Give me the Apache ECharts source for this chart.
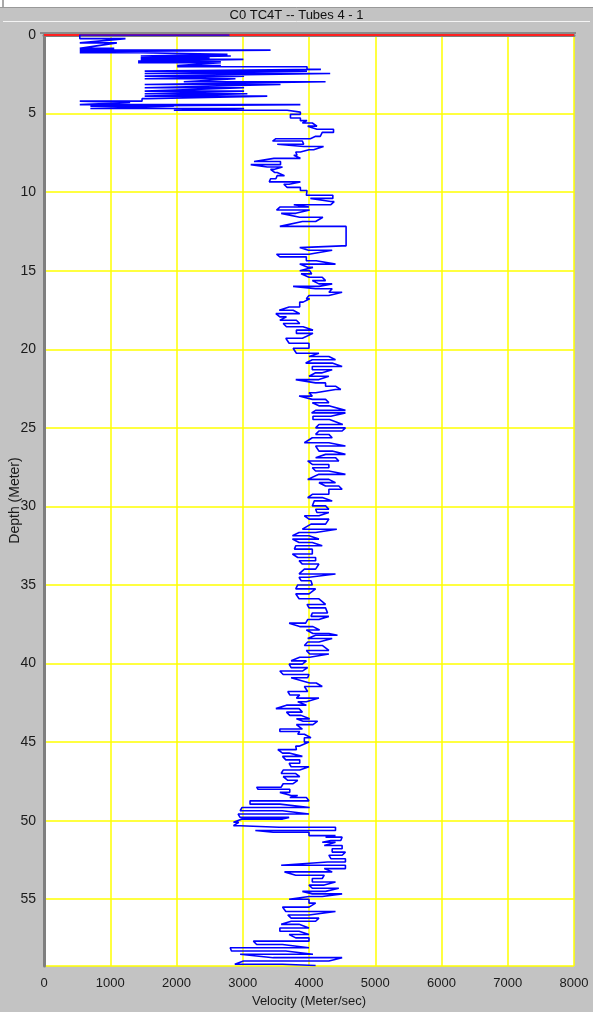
<!DOCTYPE html>
<html>
<head>
<meta charset="utf-8">
<script src="https://cdn.jsdelivr.net/npm/echarts@6/dist/echarts.min.js"></script>
<style>
html,body{margin:0;padding:0;background:#c3c3c3;}
#chart{width:593px;height:1012px;}
</style>
</head>
<body>
<div id="chart"></div>
<script>
// Depth rows (m); each row is drawn from velIn to velOut (m/s)
const depths = [
0.00,0.23,0.50,0.85,0.96,1.06,1.13,1.23,1.34,1.45,1.55,1.66,1.77,1.94,2.02,2.19,2.30,2.45,2.62,2.78,2.98,3.15,3.36,3.57,3.74,3.89,4.05,4.21,4.30,4.43,4.53,4.68,4.79,4.91,
5.05,5.28,5.45,5.60,5.80,6.00,6.20,6.45,6.60,6.75,6.95,7.10,7.30,7.45,7.65,7.85,8.05,8.25,8.40,8.55,8.75,8.95,9.15,9.35,9.50,9.70,9.90,
10.20,10.40,10.60,10.80,10.95,11.14,11.35,11.60,11.87,12.18,13.42,13.53,13.70,13.95,14.12,14.37,14.58,14.79,
15.00,15.20,15.42,15.63,15.84,16.00,16.15,16.37,16.58,16.79,17.00,17.31,17.52,17.73,17.94,18.15,18.36,18.57,18.78,18.99,19.30,19.62,19.94,
20.25,20.46,20.67,20.88,21.10,21.30,21.50,21.72,21.93,22.14,22.35,22.56,22.77,22.98,23.19,23.40,23.60,23.89,24.05,24.26,24.47,24.79,
25.00,25.20,25.42,25.63,25.95,26.16,26.48,26.69,26.90,27.11,27.33,27.54,27.75,27.96,28.28,28.49,28.70,28.91,29.23,29.44,29.65,29.97,
30.18,30.39,30.60,30.81,31.13,31.45,31.66,31.87,32.08,32.30,32.50,32.72,33.03,33.25,33.46,33.67,33.99,34.30,34.51,34.73,
35.00,35.25,35.57,35.88,36.24,36.46,36.78,37.00,37.20,37.43,37.65,37.87,38.09,38.20,38.41,38.63,38.85,39.17,39.39,39.60,39.83,
40.04,40.26,40.48,40.70,40.91,41.24,41.46,41.78,42.00,42.20,42.43,42.65,42.87,43.09,43.30,43.52,43.67,43.89,44.17,44.33,44.50,44.72,
45.00,45.26,45.48,45.70,45.91,46.13,46.35,46.57,46.78,47.00,47.20,47.43,47.65,47.87,48.00,48.20,48.40,48.53,48.74,48.95,49.16,49.37,49.58,49.79,49.90,
50.10,50.32,50.42,50.63,50.74,50.95,51.05,51.26,51.37,51.58,51.79,52.00,52.20,52.42,52.63,52.84,53.05,53.26,53.47,53.68,53.90,54.10,54.30,54.50,54.66,54.83,
55.00,55.25,55.50,55.78,56.00,56.20,56.40,56.60,56.83,57.04,57.25,57.46,57.67,57.88,58.09,58.30,58.50,58.72,58.93,59.14,59.22
];
const velIn = [
2800,540,540,540,540,540,540,1460,1460,1460,1460,1420,1420,2010,2010,3970,1520,1520,1520,1520,2110,1520,1520,1520,1520,1520,1560,1480,540,540,700,700,1960,3670,
3870,3720,3870,3900,4120,4120,4370,4170,4020,3450,3920,3920,4070,3870,3820,3870,3170,3570,3370,3480,3480,3630,3500,3400,3700,3670,3870,
3960,4360,4330,4330,4000,3510,3800,3860,4100,3560,4560,4500,3990,4000,3560,3960,4400,3990,
3860,4040,4000,4250,4150,4150,4100,4300,4300,3960,3910,3860,3550,3860,3560,3560,3860,3660,4060,3810,3900,3700,4000,
3810,4000,4400,3950,4500,4050,4200,4000,4150,4100,4250,4480,4100,4050,4050,4300,4150,4550,4040,4330,4060,4510,
4100,4500,4100,4350,3930,4550,4150,4550,4100,4450,4050,4300,4100,4550,3980,4400,4250,4500,4300,3980,4350,4050,
4300,4120,4150,4000,4250,3900,4100,3750,4150,3850,4200,3780,4050,3830,4100,3900,4100,3850,4000,3880,
4050,3800,4000,3850,4250,4000,4280,4030,4150,3950,3860,4160,4060,4430,3980,4150,3930,4300,4010,4010,3730,
3900,3730,3900,3610,3980,4010,4200,3980,3710,3810,3960,3960,3500,3900,3710,4010,3910,4060,3900,3560,3830,4030,
3930,3850,3810,3600,3900,3650,3860,3730,3860,3580,3860,3680,3760,3580,3230,3710,3730,3710,4000,3110,4010,2960,4000,2960,3600,
2860,2860,3550,4400,3460,4000,4250,4480,4200,4230,4500,4350,4500,4330,4550,3580,4550,4350,3800,4200,4050,4230,4050,4250,4050,4200,
3700,4000,4000,3650,4000,3730,4100,3580,4000,3560,4000,3800,4000,3210,4000,2830,4060,3460,4300,2880,3600
];
const velOut = [
540,1230,1100,1060,3420,1060,1460,2770,2820,2500,3010,2670,2670,2670,3970,4180,3970,4320,3020,2890,4250,3570,3020,3020,3070,3370,1480,540,1300,3870,1960,3020,3670,3870,
3720,3870,3970,4050,3980,4370,4200,4100,3500,3900,3520,4220,4000,3800,3770,3470,3570,3120,3600,3420,3520,3520,3420,3870,3620,3870,3970,
4360,4020,4380,3770,3560,4010,3580,4210,3900,4560,4500,3860,4350,3510,3960,4110,3860,4060,
4010,3880,4200,4050,4350,3760,4350,4500,4000,4010,3860,3700,3760,3500,3660,3810,3610,3910,3810,4060,3650,4000,3760,
4150,4300,4050,4350,4050,4350,4100,4300,3800,4250,4400,4400,4000,3850,4250,4050,4300,4100,4550,4060,4310,4150,
4550,4150,4300,4050,4300,4100,4350,4250,4400,3980,4300,4050,4300,4150,4300,4150,4450,4300,4050,4200,4080,4250,
4100,4300,3930,4300,4030,4420,3850,4000,3750,4050,3800,4050,3750,4100,3850,4150,3930,4400,3850,4030,
3830,4100,3800,4150,3970,4250,4050,4300,3980,3700,4060,3960,4300,4100,4350,3980,4200,3960,4300,3860,3960,
3700,3980,3560,4000,3730,4110,3930,3680,3860,4150,3830,3660,3850,3660,3880,3810,4130,3810,3560,3860,3930,3930,
4000,3800,3530,3700,3600,3860,3700,4000,3610,3800,3610,3830,3610,3210,3710,3560,3830,3960,3110,3560,2990,3600,2930,3700,2990,
2940,2960,4400,3190,4000,4400,4500,4330,4400,4500,4350,4550,4300,4550,4280,4550,4230,3630,4230,4050,4400,4000,4450,3900,4500,4000,
4000,4100,3600,4400,3680,4150,3730,3850,3560,3850,3700,4000,3160,3600,2810,3650,2960,4500,3010,3600,4100
];
const depthMax = 59.25;

const trace = [];
for (let i = 0; i < depths.length; i++) {
  trace.push([velIn[i], depths[i]]);
  trace.push([velOut[i], depths[i]]);
}

const chart = echarts.init(document.getElementById('chart'), null, {renderer:'canvas'});
const font = "'Liberation Sans', Arial, sans-serif";
chart.setOption({
  backgroundColor: '#c3c3c3',
  animation: false,
  title: {
    text: 'C0 TC4T -- Tubes 4 - 1',
    left: 'center', top: 4,
    textStyle: {fontSize: 13, fontWeight: 'normal', color: '#111', fontFamily: font}
  },
  graphic: [
    {type:'rect', shape:{x:0,y:0,width:593,height:7}, style:{fill:'#ffffff'}, z:-1},
    {type:'line', shape:{x1:3,y1:0,x2:3,y2:7}, style:{stroke:'#555', lineWidth:1}},
    {type:'line', shape:{x1:0,y1:7.5,x2:593,y2:7.5}, style:{stroke:'#999', lineWidth:1}},
    {type:'line', shape:{x1:3,y1:21.5,x2:590,y2:21.5}, style:{stroke:'#f4f4f4', lineWidth:1}},
    {type:'line', shape:{x1:40,y1:33,x2:576,y2:33}, style:{stroke:'#8a8a8a', lineWidth:2}}
  ],
  grid: {left: 44, right: 19, top: 35, bottom: 46, containLabel: false, outerBoundsMode: 'none',
    backgroundColor: '#ffffff', show: true, borderWidth: 0},
  xAxis: {
    type: 'value', min: 0, max: 8000, interval: 1000, offset: 2,
    name: 'Velocity (Meter/sec)', nameLocation: 'middle', nameGap: 26,
    nameTextStyle: {fontSize: 13, color: '#1a1a1a', fontFamily: font},
    axisLine: {show: true, lineStyle: {color: '#7f7f7f', width: 3}},
    axisTick: {show: false},
    axisLabel: {fontSize: 13, color: '#1a1a1a', fontFamily: font, margin: 9,
      formatter: v => String(v)},
    splitLine: {show: true, lineStyle: {color: '#ffff00', width: 1.5}}
  },
  yAxis: {
    type: 'value', inverse: true, min: 0, max: depthMax, interval: 5, offset: 3,
    name: 'Depth (Meter)', nameLocation: 'middle', nameGap: 19, nameRotate: 90,
    nameMoveOverlap: false,
    nameTextStyle: {fontSize: 14, color: '#1a1a1a', fontFamily: font},
    axisLine: {show: true, lineStyle: {color: '#7f7f7f', width: 3}},
    axisTick: {show: false},
    axisLabel: {fontSize: 14, color: '#1a1a1a', fontFamily: font, margin: 5, showMaxLabel: false,
      formatter: v => String(v)},
    splitLine: {show: true, lineStyle: {color: '#ffff00', width: 1.5}}
  },
  series: [
    {
      type: 'line', data: trace, showSymbol: false, symbol: 'none',
      lineStyle: {color: '#0000ff', width: 1.6},
      markLine: {silent: true, symbol: 'none', label: {show: false},
        lineStyle: {color: '#ff2020', type: 'solid', width: 2},
        data: [{yAxis: 0}], z: 1}
    }
  ]
});
</script>
</body>
</html>
